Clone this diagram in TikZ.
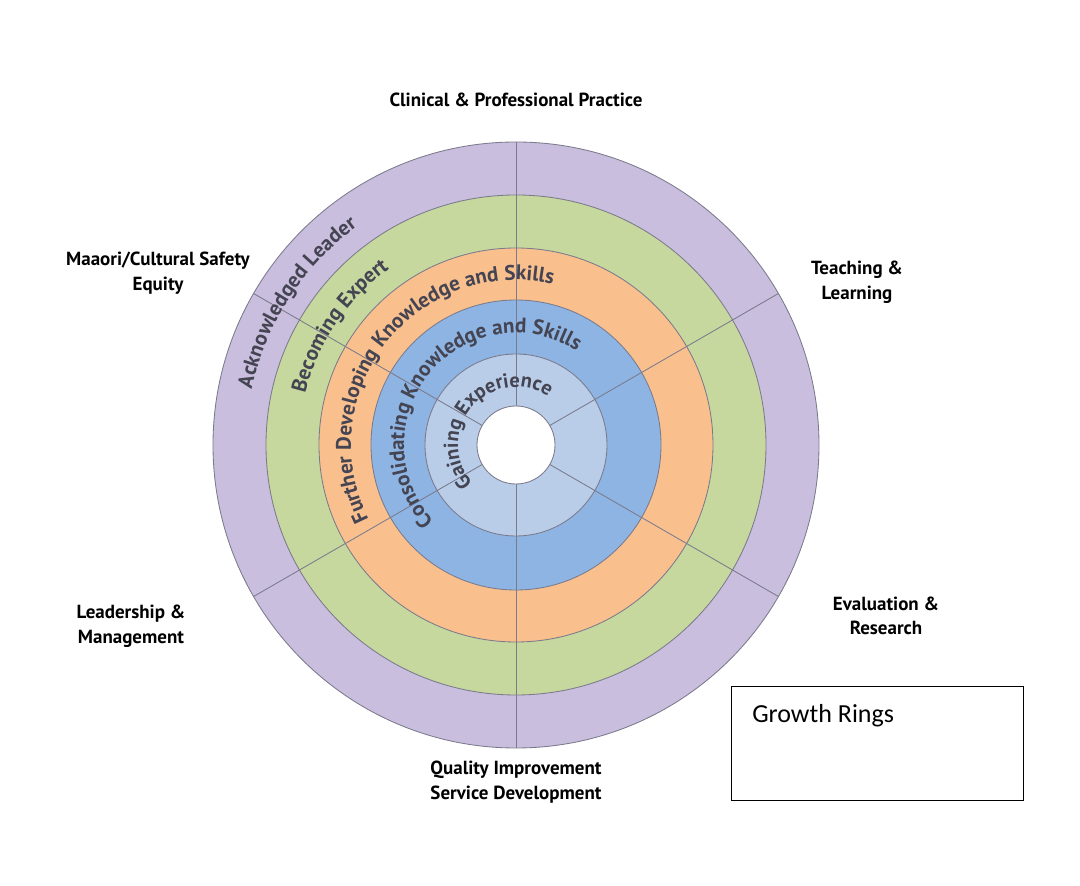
\documentclass[tikz,border=0pt]{standalone}
\usepackage{fontspec}
\newfontfamily\lblfont{PT Sans}
\newfontfamily\boxfont{Carlito}
\usetikzlibrary{decorations.text}
\definecolor{ringpurple}{HTML}{C9BEDD}
\definecolor{ringgreen}{HTML}{C6D89E}
\definecolor{ringorange}{HTML}{F9C08E}
\definecolor{ringblue}{HTML}{8DB4E2}
\definecolor{ringpale}{HTML}{B9CDE8}
\definecolor{ringline}{HTML}{7A7A8C}
\definecolor{ringtext}{HTML}{444452}
\newcommand\ringfont{\lblfont\bfseries\fontsize{15}{15}\selectfont}
\newcommand\ringfontsmall{\lblfont\bfseries\fontsize{14.5}{15}\selectfont}

\begin{document}
\begin{tikzpicture}[x = 0.025cm, y = 0.025cm,
		ring/.style = {draw = ringline, line width = 0.6pt},
		lbl/.style = {font = \lblfont\bfseries\fontsize{13.5}{17.5}\selectfont, align = center, inner sep = 0pt},
		ringtxt/.style = {decorate, decoration = {text along path, text align = center, text color = ringtext}}]
	\useasboundingbox (-516,-441) rectangle (564,445);
	\fill[white] (-516,-441) rectangle (564,445);
	% rings, outside in
	\draw[ring, fill = ringpurple] (0,0) circle[radius = 303];
	\draw[ring, fill = ringgreen] (0,0) circle[radius = 250];
	\draw[ring, fill = ringorange] (0,0) circle[radius = 197];
	\draw[ring, fill = ringblue] (0,0) circle[radius = 145];
	\draw[ring, fill = ringpale] (0,0) circle[radius = 91];
	\foreach \a in {30,90,...,330}
		\draw[ring] (\a:39) -- (\a:303);
	\draw[ring, fill = white] (0,0) circle[radius = 39];
	% ring names
	\path[ringtxt, decoration = {text = {|\ringfont|Acknowledged Leader}}] (227:270) arc[start angle = 227, end angle = 67, radius = 270];
	\path[ringtxt, decoration = {text = {|\ringfont|Becoming Expert}}] (226:217) arc[start angle = 226, end angle = 66, radius = 217];
	\path[ringtxt, decoration = {text = {|\ringfont|Further Developing Knowledge and Skills}}] (232:165) arc[start angle = 232, end angle = 52, radius = 165];
	\path[ringtxt, decoration = {text = {|\ringfont|Consolidating Knowledge and Skills}}] (235:112) arc[start angle = 235, end angle = 45, radius = 112];
	\path[ringtxt, decoration = {text = {|\ringfontsmall|Gaining Experience}}] (234:58) arc[start angle = 234, end angle = 44, radius = 58];
	% domains
	\node[lbl] (clinical) at (0,345) {Clinical \& Professional Practice};
	\node[lbl] (maaori) at (-358,172) {Maaori/Cultural Safety\\Equity};
	\node[lbl] (teaching) at (341,163) {Teaching \&\\Learning};
	\node[lbl] (leadership) at (-385,-181) {Leadership \&\\Management};
	\node[lbl] (evaluation) at (370,-171) {Evaluation \&\\Research};
	\node[lbl] (quality) at (0,-337) {Quality Improvement\\Service Development};
	% legend box
	\node[draw = black, line width = 0.8pt, minimum width = 7.3cm, minimum height = 2.85cm, anchor = north west, inner sep = 0pt] (growthbox) at (215,-241) {};
	\node[font = \boxfont\fontsize{18.5}{20}\selectfont, anchor = base west, inner sep = 0pt] (growth) at ([xshift = 0.525cm, yshift = -0.9cm]growthbox.north west) {Growth Rings};
\end{tikzpicture}
\end{document}
